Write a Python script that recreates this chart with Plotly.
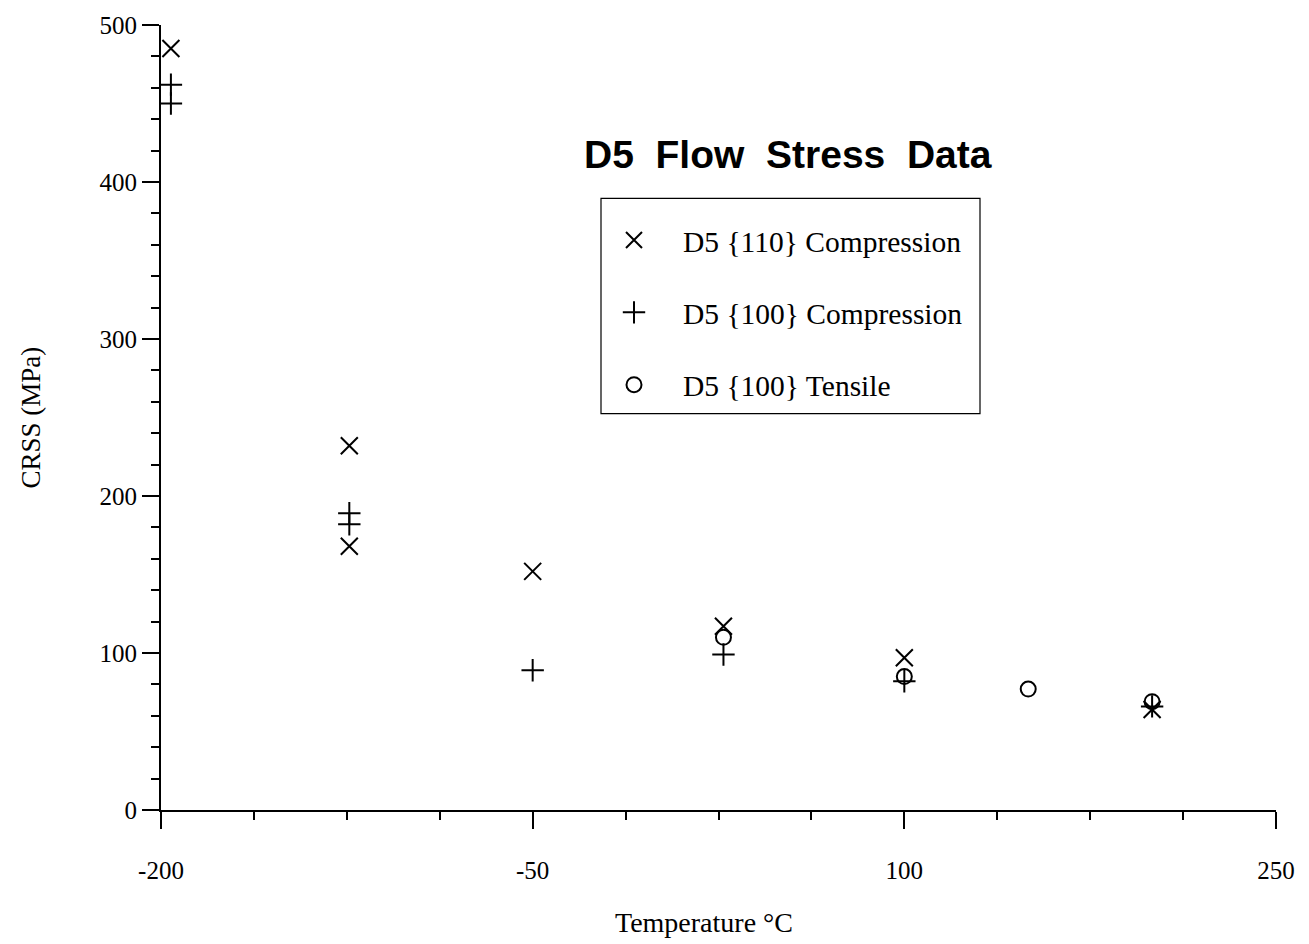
import plotly.graph_objects as go

# Flow stress (CRSS, MPa) versus test temperature (deg C)
temp_110_comp = [-196, -124, -124, -50, 27, 100, 200]
crss_110_comp = [485, 232, 168, 152, 117, 97, 64]

temp_100_comp = [-196, -196, -124, -124, -50, 27, 100, 200]
crss_100_comp = [462, 450, 189, 182, 89, 99, 82, 66]

temp_100_tens = [27, 100, 150, 200]
crss_100_tens = [110, 85, 77, 69]

series_names = ["D5 {110} Compression", "D5 {100} Compression", "D5 {100} Tensile"]
x_tick_vals = [-200, -50, 100, 250]
y_tick_vals = [0, 100, 200, 300, 400, 500]

serif = "Liberation Serif, Times New Roman, serif"

# plot-area edges in pixels, used to place paper-coordinate items
plot_l, plot_r, plot_t, plot_b = 161, 1276, 18, 810


def px_x(px):
    return (px - plot_l) / (plot_r - plot_l)


def px_y(py):
    return (plot_b - py) / (plot_b - plot_t)


fig = go.Figure()
fig.add_trace(go.Scatter(
    x=temp_110_comp, y=crss_110_comp, mode="markers", name=series_names[0],
    legendgroup="a",
    marker=dict(symbol="x-thin-open", size=17, color="black",
                line=dict(color="black", width=2)),
))
fig.add_trace(go.Scatter(
    x=temp_100_comp, y=crss_100_comp, mode="markers", name=series_names[1],
    legendgroup="b",
    marker=dict(symbol="cross-thin-open", size=16, color="black",
                line=dict(color="black", width=2)),
))
fig.add_trace(go.Scatter(
    x=temp_100_tens, y=crss_100_tens, mode="markers", name=series_names[2],
    legendgroup="c",
    marker=dict(symbol="circle-open", size=15, color="black",
                line=dict(color="black", width=2)),
))

fig.update_layout(
    width=1309, height=944,
    margin=dict(l=plot_l, r=1309 - plot_r, t=plot_t, b=944 - plot_b),
    paper_bgcolor="white", plot_bgcolor="white",
    font=dict(family=serif, color="black", size=25),
    showlegend=True,
    legend=dict(
        x=px_x(585), y=px_y(209), xanchor="left", yanchor="top",
        borderwidth=0, bgcolor="rgba(0,0,0,0)",
        font=dict(family=serif, size=29.5, color="black"),
        tracegroupgap=31, itemwidth=88,
    ),
    shapes=[dict(
        type="rect", xref="paper", yref="paper",
        x0=px_x(601), x1=px_x(980), y0=px_y(193), y1=px_y(410),
        line=dict(color="black", width=1.2), fillcolor="rgba(0,0,0,0)",
    )],
    annotations=[
        dict(
            text="D5\u00a0\u00a0Flow\u00a0\u00a0Stress\u00a0\u00a0Data",
            x=px_x(788), y=px_y(149), xref="paper", yref="paper",
            xanchor="center", yanchor="middle", showarrow=False,
            font=dict(family="Liberation Sans, Arial, sans-serif", size=39,
                      color="black", weight="bold"),
        ),
        dict(
            text="Temperature °C",
            x=px_x(704), y=px_y(924), xref="paper", yref="paper",
            xanchor="center", yanchor="middle", showarrow=False,
            font=dict(family=serif, size=28, color="black"),
        ),
        dict(
            text="CRSS (MPa)", textangle=-90,
            x=px_x(30), y=px_y(414), xref="paper", yref="paper",
            xanchor="center", yanchor="middle", showarrow=False,
            font=dict(family=serif, size=27, color="black"),
        ),
    ],
)

fig.update_xaxes(
    range=[-200, 250], tickvals=x_tick_vals, ticktext=[str(v) for v in x_tick_vals],
    tickfont=dict(family=serif, size=25, color="black"),
    ticks="outside", ticklen=17, tickwidth=1.5, tickcolor="black",
    minor=dict(tickvals=[-200 + 37.5 * i for i in range(13)], ticks="outside",
               ticklen=8, tickwidth=1.5, tickcolor="black"),
    showline=True, linecolor="black", linewidth=2,
    showgrid=False, zeroline=False,
    ticklabelstandoff=20,
)
fig.update_yaxes(
    range=[0, 500], tickvals=y_tick_vals, ticktext=[str(v) for v in y_tick_vals],
    tickfont=dict(family=serif, size=25, color="black"),
    ticks="outside", ticklen=17, tickwidth=1.5, tickcolor="black",
    minor=dict(dtick=20, tick0=0, ticks="outside", ticklen=8, tickwidth=1.5, tickcolor="black"),
    showline=True, linecolor="black", linewidth=2,
    showgrid=False, zeroline=False,
    ticklabelstandoff=0,
)

fig.write_html("out.html")
